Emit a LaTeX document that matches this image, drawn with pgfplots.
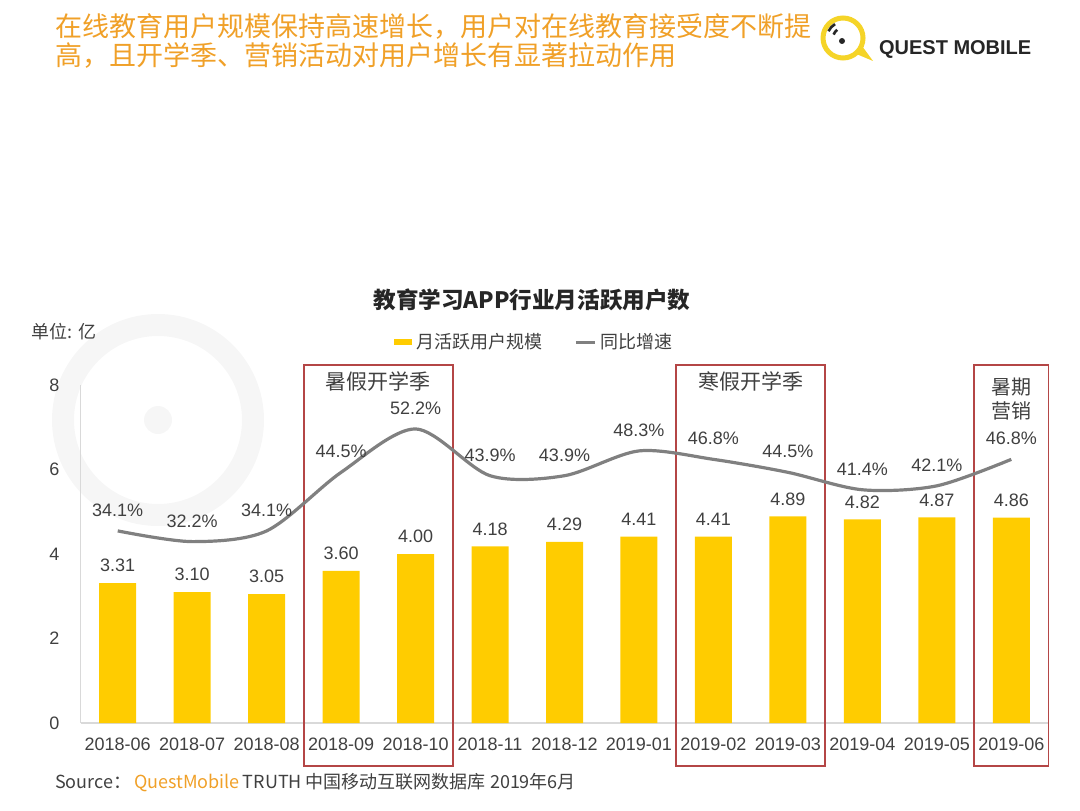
\documentclass[border=0pt]{standalone}
\usepackage{fontspec}
\setmainfont{Liberation Sans}
\newfontfamily\cjk{Noto Sans CJK SC}
\usepackage{pgfplots}
\pgfplotsset{compat=1.18}
\definecolor{baryellow}{RGB}{255,204,0}
\definecolor{linegray}{RGB}{128,128,128}
\definecolor{txt}{RGB}{64,64,64}
\definecolor{titleorange}{RGB}{240,160,40}
\definecolor{boxred}{RGB}{180,70,70}
\definecolor{axgray}{RGB}{217,217,217}
\definecolor{logoyellow}{RGB}{245,212,40}
\definecolor{wm}{RGB}{246,246,246}
\begin{document}
\begin{tikzpicture}[x=0.5pt,y=0.5pt,font=\fontsize{9}{11}\selectfont]
\path[use as bounding box] (0,0) rectangle (1080,810);
% faint watermark
\draw[wm, line width=11pt] (158,390) circle (95);
\fill[wm] (158,390) circle (14);
% headline
\node[anchor=west, text=titleorange, font=\cjk\fontsize{13.5}{16}\selectfont] at (48,783) {在线教育用户规模保持高速增长，用户对在线教育接受度不断提};
\node[anchor=west, text=titleorange, font=\cjk\fontsize{13.5}{16}\selectfont] at (48,755) {高，且开学季、营销活动对用户增长有显著拉动作用};
% logo
\draw[logoyellow, line width=2.5pt] (843,772) circle (20);
\fill[logoyellow] (854,757) -- (873,749) -- (862,764) -- cycle;
\fill[black!85] (842,769) circle (3);
\draw[black!85, line width=1.3pt] ([shift={(843,772)}]125:10) arc (125:160:10);
\draw[black!85, line width=1.3pt] ([shift={(843,772)}]120:16) arc (120:155:16);
\node[anchor=west, font=\bfseries\fontsize{10}{12}\selectfont, text=black!85] at (872,761) {QUEST MOBILE};
% chart title and unit
\node[font=\cjk\bfseries\fontsize{11.3}{14}\selectfont, text=black!85] at (532,510) {教育学习APP行业月活跃用户数};
\node[text=txt, font=\cjk\fontsize{9}{11}\selectfont] at (64,478) {单位: 亿};
% source
\node[anchor=west, text=txt, font=\cjk\fontsize{9}{11}\selectfont] at (48,27) {Source：\,\textcolor{titleorange}{QuestMobile}\,TRUTH 中国移动互联网数据库 2019年6月};

\begin{axis}[
  at={(40.25pt,43.5pt)}, anchor=south west,
  width=484pt, height=169pt, scale only axis,
  xmin=-0.5, xmax=12.5, ymin=0, ymax=8,
  xtick={0,...,12},
  xticklabels={2018-06,2018-07,2018-08,2018-09,2018-10,2018-11,2018-12,2019-01,2019-02,2019-03,2019-04,2019-05,2019-06},
  ytick={0,2,4,6,8},
  axis x line*=bottom, axis y line*=left,
  x axis line style={draw=axgray, line width=0.6pt},
  y axis line style={draw=axgray, line width=0.6pt},
  major tick length=0pt, tick style={draw=none},
  ticklabel style={text=txt, font=\fontsize{9}{11}\selectfont},
  xticklabel style={yshift=-4pt},
  yticklabel style={xshift=-7pt},
  /pgf/number format/assume math mode=true,
  clip=false,
  legend style={at={(0.47,1.127)}, anchor=center, draw=none, fill=none,
    legend columns=2, text=txt, font=\cjk\fontsize{9}{11}\selectfont,
    /tikz/every even column/.append style={column sep=14pt}},
]
\addplot[ybar, bar width=18.5pt, fill=baryellow, draw=none,
  legend image code/.code={\fill[baryellow] (0pt,-1.6pt) rectangle (9pt,1.6pt);},
  nodes near coords={\pgfmathprintnumber[fixed,fixed zerofill,precision=2,assume math mode=true]{\pgfplotspointmeta}},
  every node near coord/.append style={text=txt, font=\fontsize{9}{11}\selectfont, yshift=2pt}]
coordinates {(0,3.31) (1,3.10) (2,3.05) (3,3.60) (4,4.00) (5,4.18) (6,4.29) (7,4.41) (8,4.41) (9,4.89) (10,4.82) (11,4.87) (12,4.86)};
\addlegendentry{月活跃用户规模}
\addlegendimage{legend image code/.code={\draw[linegray,line width=1.5pt] (0pt,0pt) -- (9.5pt,0pt);}}
\addlegendentry{同比增速}
% highlight boxes
\draw[boxred, line width=0.8pt] (axis cs:2.5,-1.02) rectangle (axis cs:4.5,8.47);
\draw[boxred, line width=0.8pt] (axis cs:7.5,-1.02) rectangle (axis cs:9.5,8.47);
\draw[boxred, line width=0.8pt] (axis cs:11.5,-1.02) rectangle (axis cs:12.5,8.47);
\node[text=txt, font=\cjk\fontsize{10.5}{12}\selectfont] at (axis cs:3.5,8.08) {暑假开学季};
\node[text=txt, font=\cjk\fontsize{10.5}{12}\selectfont] at (axis cs:8.5,8.08) {寒假开学季};
\node[text=txt, font=\cjk\fontsize{10}{12}\selectfont, align=center, anchor=north] at (axis cs:12,8.33) {暑期\\营销};
\end{axis}

\begin{axis}[
  at={(40.25pt,43.5pt)}, anchor=south west,
  width=484pt, height=169pt, scale only axis,
  xmin=-0.5, xmax=12.5, ymin=0, ymax=60,
  hide axis, clip=false,
  /pgf/number format/assume math mode=true,
]
\addplot[linegray, line width=1.6pt, smooth, tension=0.5, mark=none,
  nodes near coords={\pgfmathprintnumber[fixed,fixed zerofill,precision=1,assume math mode=true]{\pgfplotspointmeta}\%},
  every node near coord/.append style={text=txt, font=\fontsize{9}{11}\selectfont, yshift=3pt}]
coordinates {(0,34.1) (1,32.2) (2,34.1) (3,44.5) (4,52.2) (5,43.9) (6,43.9) (7,48.3) (8,46.8) (9,44.5) (10,41.4) (11,42.1) (12,46.8)};
\end{axis}
\end{tikzpicture}
\end{document}
